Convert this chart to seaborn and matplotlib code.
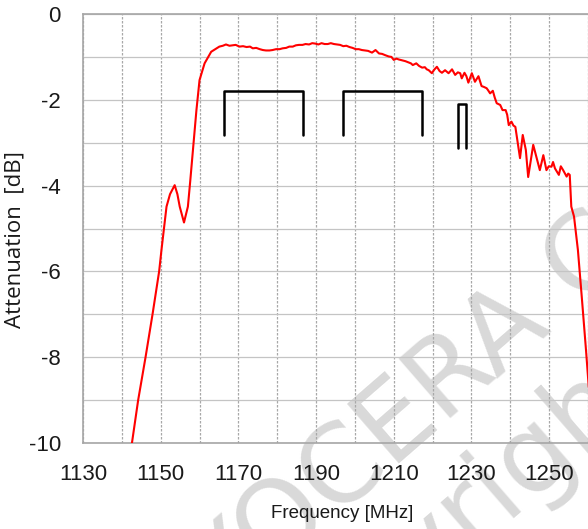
import matplotlib
matplotlib.use("Agg")
import matplotlib.pyplot as plt
import seaborn as sns
import pandas as pd
from matplotlib import font_manager

# ---- data ----
freq = [1142.4, 1142.6, 1144.2, 1146.1, 1147.9, 1149.6, 1150.2, 1151.5, 1152.4, 1153.6,
        1154.3, 1154.9, 1156.0, 1157.0, 1157.6, 1158.3, 1159.2, 1160.0, 1161.3, 1163.0,
        1165.1, 1166.0, 1166.8, 1167.7, 1168.5, 1169.3, 1170.3, 1171.2, 1172.1, 1173.0,
        1173.7, 1174.6, 1175.5, 1176.3, 1177.1, 1178.0, 1178.8, 1179.7, 1180.6, 1181.4,
        1182.3, 1183.1, 1184.0, 1184.8, 1185.6, 1186.5, 1187.3, 1188.2, 1189.0, 1189.8,
        1190.6, 1191.4, 1192.2, 1193.0, 1193.8, 1194.6, 1195.4, 1196.2, 1197.0, 1197.8,
        1198.6, 1199.4, 1200.2, 1201.0, 1201.8, 1202.6, 1203.4, 1204.4, 1205.3, 1206.2,
        1207.0, 1207.8, 1208.7, 1209.4, 1210.0, 1210.7, 1211.3, 1212.1, 1213.0, 1213.8,
        1214.4, 1214.9, 1215.8, 1216.5, 1217.3, 1218.0, 1218.5, 1219.0, 1219.8, 1220.4,
        1221.1, 1221.8, 1222.4, 1223.2, 1224.1, 1225.0, 1225.8, 1226.5, 1227.1, 1227.5,
        1228.2, 1228.7, 1229.2, 1230.1, 1230.9, 1231.8, 1232.6, 1233.2, 1233.9, 1234.3,
        1234.8, 1235.5, 1236.0, 1236.5, 1237.4, 1238.0, 1238.8, 1239.2, 1239.6, 1240.3,
        1240.8, 1241.3, 1241.9, 1242.5, 1243.2, 1244.0, 1244.6, 1245.9, 1246.7, 1247.6,
        1248.5, 1249.3, 1249.9, 1250.6, 1251.0, 1251.5, 1252.5, 1253.0, 1253.6, 1254.5,
        1254.9, 1255.3, 1255.7, 1256.4, 1257.4, 1258.4, 1259.5, 1260.2]
atten = [-10.1, -10.0, -9.0, -8.0, -7.0, -6.0, -5.5, -4.49, -4.2, -3.99,
         -4.2, -4.49, -4.86, -4.49, -3.9, -3.17, -2.24, -1.54, -1.15, -0.88,
         -0.76, -0.74, -0.71, -0.74, -0.73, -0.72, -0.76, -0.75, -0.77, -0.76,
         -0.80, -0.79, -0.82, -0.84, -0.85, -0.85, -0.84, -0.82, -0.82, -0.80,
         -0.79, -0.76, -0.76, -0.73, -0.72, -0.72, -0.70, -0.71, -0.68, -0.69,
         -0.71, -0.68, -0.70, -0.70, -0.68, -0.70, -0.71, -0.72, -0.75, -0.74,
         -0.77, -0.79, -0.82, -0.82, -0.84, -0.85, -0.86, -0.90, -0.84, -0.92,
         -0.93, -0.96, -0.99, -1.00, -1.07, -1.04, -1.06, -1.08, -1.10, -1.13,
         -1.15, -1.19, -1.15, -1.21, -1.25, -1.24, -1.29, -1.31, -1.38, -1.30,
         -1.23, -1.33, -1.37, -1.31, -1.38, -1.29, -1.42, -1.36, -1.38, -1.50,
         -1.37, -1.45, -1.60, -1.38, -1.58, -1.45, -1.68, -1.70, -1.73, -1.78,
         -1.85, -1.79, -1.95, -2.08, -2.12, -2.24, -2.24, -2.35, -2.59, -2.51,
         -2.60, -2.63, -3.00, -3.36, -2.82, -3.17, -3.80, -3.05, -3.33, -3.64,
         -3.29, -3.64, -3.55, -3.56, -3.45, -3.60, -3.75, -3.55, -3.64, -3.79,
         -3.72, -3.75, -4.49, -4.72, -5.50, -6.60, -7.85, -8.70]

# pass-band brackets (low edge, high edge, top level, bottom level)
band_low = [1166.22, 1196.91, 1226.57]
band_high = [1186.68, 1217.37, 1228.62]
band_top = [-1.80, -1.80, -2.10]
band_bottom = [-2.82, -2.82, -3.12]

x_ticks = list(range(1130, 1261, 10))
x_labels = ["1130", "", "1150", "", "1170", "", "1190", "", "1210", "", "1230", "", "1250", ""]
y_ticks = list(range(-10, 1))
y_labels = ["-10", "", "-8", "", "-6", "", "-4", "", "-2", "", "0"]

# ---- styling ----
sns.set_theme(style="white")
avail = {f.name for f in font_manager.fontManager.ttflist}
narrow = next((f for f in ["Liberation Sans Narrow", "DejaVu Sans Condensed", "Liberation Sans"] if f in avail), "DejaVu Sans")
regular = "Open Sans" if "Open Sans" in avail else "DejaVu Sans"
plt.rcParams["font.family"] = [narrow, "DejaVu Sans"]

W, H = 588, 529
fig = plt.figure(figsize=(W / 100, H / 100), dpi=100)
ax = fig.add_axes([83 / W, 1 - 443 / H, 1 - 83 / W, (443 - 14) / H])

df = pd.DataFrame({"Frequency": freq, "Attenuation": atten})
sns.lineplot(data=df, x="Frequency", y="Attenuation", color="#ff0000", lw=1.5,
             sort=False, estimator=None, ax=ax, zorder=3)

for lo, hi, top, bot in zip(band_low, band_high, band_top, band_bottom):
    bdf = pd.DataFrame({"x": [lo, lo, hi, hi], "y": [bot, top, top, bot]})
    sns.lineplot(data=bdf, x="x", y="y", color="black", lw=1.8, sort=False,
                 estimator=None, ax=ax, zorder=3)

ax.set_xlim(1130, 1259.5)
ax.set_ylim(-10, 0)
ax.set_xticks(x_ticks)
ax.set_xticklabels(x_labels)
ax.set_yticks(y_ticks)
ax.set_yticklabels(y_labels)
ax.tick_params(axis="both", length=0, labelsize=16, colors="#1a1a1a")
ax.tick_params(axis="x", pad=15)
ax.tick_params(axis="y", pad=16)
ax.set_xlabel("")
ax.set_ylabel("")

ax.set_axisbelow(True)
ax.xaxis.grid(True, color="#a8a8a8", lw=0.9, ls=(0, (2.0, 1.2)))
ax.yaxis.grid(True, color="#c4c4c4", lw=0.9, ls="-")
for side in ["left", "bottom", "top"]:
    ax.spines[side].set_color("#a6a6a6")
    ax.spines[side].set_linewidth(1.2)
ax.spines["right"].set_visible(False)

fig.text(342 / W, 1 - 513 / H, "Frequency [MHz]", ha="center", va="center",
         fontsize=13.5, color="#1a1a1a")
fig.text(15 / W, 1 - 240 / H, "Attenuation  [dB]", ha="center", va="center",
         rotation=90, fontsize=16, color="#1a1a1a", family=[regular, "DejaVu Sans"])

# watermark (drawn beneath grid and tick labels)
ax.text(154 / W, 1 - 637 / H, "KYOCERA Confidential", transform=fig.transFigure,
        rotation=41, rotation_mode="anchor", ha="left", va="center",
        fontsize=78, color="#d9d9d9", family=["DejaVu Sans"], zorder=0.1, clip_on=False)
ax.text(645 / W, 1 - 360 / H, "Copyright", transform=fig.transFigure,
        rotation=41, rotation_mode="anchor", ha="right", va="center",
        fontsize=78, color="#d9d9d9", family=["DejaVu Sans"], zorder=0.1, clip_on=False)

fig.savefig("out.png", dpi=100)
